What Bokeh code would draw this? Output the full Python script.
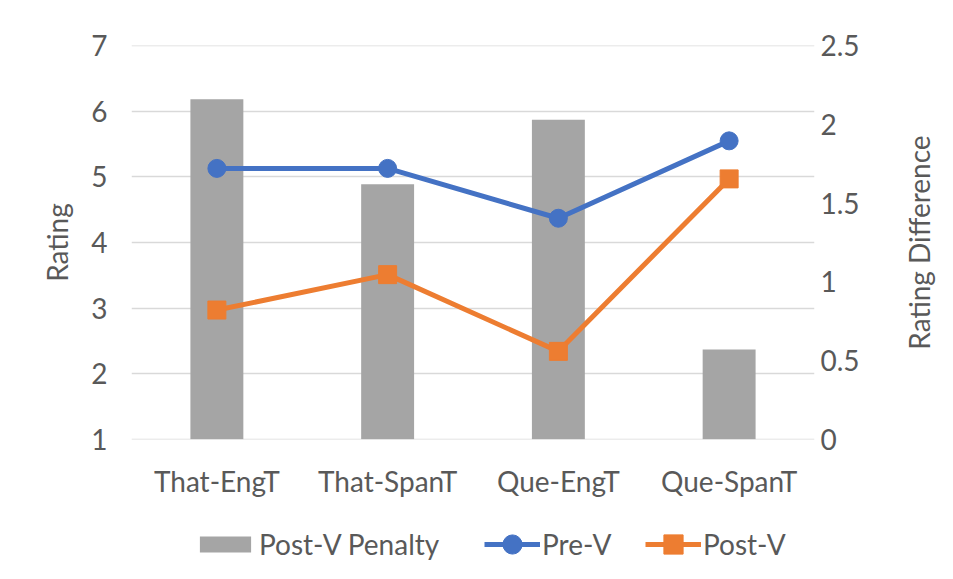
import math
from bokeh.plotting import figure
from bokeh.models import Range1d, LinearAxis, Legend, LegendItem, FixedTicker
from bokeh.layouts import column, row
from bokeh.embed import file_html
from bokeh.resources import INLINE

categories = ["That-EngT", "That-SpanT", "Que-EngT", "Que-SpanT"]
pre_v = [5.13, 5.13, 4.37, 5.55]
post_v = [2.97, 3.51, 2.34, 4.97]
penalty = [2.16, 1.62, 2.03, 0.57]
left_ticks = [1, 2, 3, 4, 5, 6, 7]
right_ticks = [0, 0.5, 1, 1.5, 2, 2.5]

FONT = "Lato"
TXT = "#595959"
FS = "28px"
GRAY = "#a5a5a5"
BLUE = "#4472c4"
ORANGE = "#ed7d31"


def style_axis(ax):
    ax.axis_line_color = None
    ax.major_tick_line_color = None
    ax.minor_tick_line_color = None
    ax.major_tick_out = 0
    ax.major_tick_in = 0
    ax.minor_tick_out = 0
    ax.minor_tick_in = 0
    ax.major_label_text_font = FONT
    ax.major_label_text_font_size = FS
    ax.major_label_text_color = TXT
    ax.axis_label_text_font = FONT
    ax.axis_label_text_font_size = FS
    ax.axis_label_text_font_style = "normal"
    ax.axis_label_text_color = TXT


eps = 0.004
p = figure(x_range=categories, y_range=Range1d(1 - eps, 7 + eps), width=870, height=500,
           output_backend="svg", toolbar_location=None,
           min_border_left=131, min_border_right=56, min_border_top=45, min_border_bottom=60)
p.extra_y_ranges = {"diff": Range1d(0 - eps * 2.5 / 6, 2.5 + eps * 2.5 / 6)}
p.outline_line_color = None
p.background_fill_color = "white"
p.border_fill_color = "white"

p.vbar(x=categories, top=penalty, bottom=0, width=0.31, y_range_name="diff",
       fill_color=GRAY, line_color=None)
p.line(categories, pre_v, line_color=BLUE, line_width=5)
p.scatter(categories, pre_v, marker="circle", size=18, fill_color=BLUE, line_color=BLUE)
p.line(categories, post_v, line_color=ORANGE, line_width=5)
p.scatter(categories, post_v, marker="square", size=18, fill_color=ORANGE, line_color=ORANGE)

p.xgrid.grid_line_color = None
p.ygrid.grid_line_color = "#d9d9d9"
p.ygrid.grid_line_width = 1.3
p.yaxis.ticker = FixedTicker(ticks=left_ticks)

right = LinearAxis(y_range_name="diff", ticker=FixedTicker(ticks=right_ticks))
p.add_layout(right, "right")
p.yaxis[0].axis_label = "Rating"

for ax in [p.xaxis[0], p.yaxis[0], right]:
    style_axis(ax)

p.xaxis[0].major_label_standoff = 24
p.yaxis[0].major_label_standoff = 24
p.yaxis[0].axis_label_standoff = 14
right.major_label_standoff = 6

# narrow strip carrying the secondary axis title (reads bottom-to-top)
rf = figure(x_range=Range1d(0, 1), y_range=Range1d(0, 1), width=75, height=500,
            output_backend="svg", toolbar_location=None,
            min_border_left=70, min_border_right=0, min_border_top=45, min_border_bottom=60)
rf.outline_line_color = None
rf.grid.visible = False
rf.xaxis.visible = False
rf.border_fill_color = "white"
rf.yaxis.ticker = FixedTicker(ticks=[])
rf.yaxis.axis_label = "Rating Difference"
style_axis(rf.yaxis[0])
rf.yaxis[0].major_label_standoff = 0
rf.yaxis[0].axis_label_standoff = 5

# legend strip below the chart
lg = figure(x_range=Range1d(0, 1), y_range=Range1d(0, 1), width=945, height=71,
            output_backend="svg", toolbar_location=None,
            min_border_left=131, min_border_right=131, min_border_top=0, min_border_bottom=0)
lg.axis.visible = False
lg.grid.visible = False
lg.outline_line_color = None
lg.border_fill_color = "white"
off = [-10]
r_bar = lg.vbar(x=off, top=off, width=0.3, fill_color=GRAY, line_color=None)
r_l1 = lg.line(off, off, line_color=BLUE, line_width=5)
r_s1 = lg.scatter(off, off, marker="circle", size=18, fill_color=BLUE, line_color=BLUE)
r_l2 = lg.line(off, off, line_color=ORANGE, line_width=5)
r_s2 = lg.scatter(off, off, marker="square", size=18, fill_color=ORANGE, line_color=ORANGE)


def make_legend(label, renderers, loc, gw, gh):
    lgd = Legend(items=[LegendItem(label=label, renderers=renderers)],
                 orientation="horizontal", location=loc)
    lgd.label_text_font = FONT
    lgd.label_text_font_size = FS
    lgd.label_text_color = TXT
    lgd.border_line_color = None
    lgd.background_fill_alpha = 0
    lgd.glyph_width = gw
    lgd.glyph_height = gh
    lgd.label_standoff = 2
    lgd.margin = 0
    lgd.padding = 0
    return lgd


lg.add_layout(make_legend("Post-V Penalty", [r_bar], (62, 10), 64, 20))
lg.add_layout(make_legend("Pre-V", [r_l1, r_s1], (353, 3), 56, 48))
lg.add_layout(make_legend("Post-V", [r_l2, r_s2], (514, 3), 56, 48))

layout = column(row(p, rf, spacing=0), lg, spacing=0)
open("out.html", "w").write(file_html(layout, INLINE))
